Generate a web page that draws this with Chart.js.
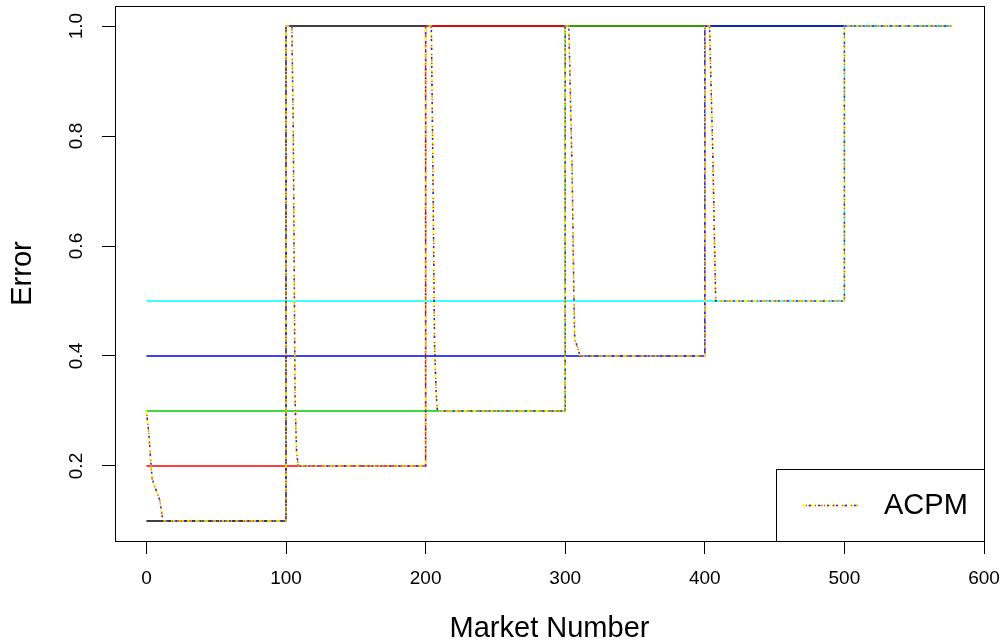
<!DOCTYPE html>
<html>
<head>
<meta charset="utf-8">
<script src="https://cdn.jsdelivr.net/npm/chart.js@4"></script>
<style>
  html, body { margin: 0; padding: 0; background: #fff; }
  #wrap { width: 1003px; height: 644px; }
</style>
</head>
<body>
<div id="wrap"><canvas id="c" width="1003" height="644"></canvas></div>
<script>
// ===== DATA =====
const marketTicks = [0, 100, 200, 300, 400, 500, 600];
const errorTicks = [0.2, 0.4, 0.6, 0.8, 1.0];

const blackMarkets = [0, 100, 100, 577];
const blackError = [0.1, 0.1, 1.0, 1.0];
const redMarkets = [0, 200, 200, 577];
const redError = [0.2, 0.2, 1.0, 1.0];
const greenMarkets = [0, 300, 300, 577];
const greenError = [0.3, 0.3, 1.0, 1.0];
const blueMarkets = [0, 400, 400, 577];
const blueError = [0.4, 0.4, 1.0, 1.0];
const cyanMarkets = [0, 500, 500, 577];
const cyanError = [0.5, 0.5, 1.0, 1.0];

const acpmMarkets = [0, 1.7, 3.4, 4.1, 5.6, 7, 9.5, 10.7, 11.7,
  100, 100, 104.2, 105.2, 106.5, 107.6, 108.8,
  200, 200, 204.1, 205.2, 206.4, 207.6, 208.5,
  300, 300, 302.6, 305, 306.2, 306.8, 309, 310.5,
  400, 400, 403.4, 405.8, 407.4, 407.8,
  500, 500, 577];
const acpmError = [0.3, 0.26, 0.2, 0.178, 0.164, 0.156, 0.138, 0.12, 0.1,
  0.1, 1.0, 1.0, 0.81, 0.32, 0.224, 0.2,
  0.2, 1.0, 1.0, 0.75, 0.42, 0.33, 0.3,
  0.3, 1.0, 1.0, 0.73, 0.51, 0.43, 0.415, 0.4,
  0.4, 1.0, 1.0, 0.76, 0.55, 0.5,
  0.5, 1.0, 1.0];

// ===== CHART =====
const FONT = "'Liberation Sans', Arial, sans-serif";
const zip = (xs, ys) => xs.map((x, i) => ({ x, y: ys[i] }));

const step = (xs, ys, color) => ({
  data: zip(xs, ys),
  borderColor: color,
  borderWidth: 1.3,
  pointRadius: 0,
  showLine: true,
  tension: 0,
});

// ACPM is drawn as several dashed layers in different colours
const acpmLayers = [
  { color: "#FFFF00", dash: [5, 3], offset: 0 },
  { color: "#E0A020", dash: [3, 9], offset: 6 },
  { color: "#2020FF", dash: [2, 7], offset: 2 },
  { color: "#FF2020", dash: [1, 8], offset: 5 },
];
const acpmSets = acpmLayers.map((l) => ({
  label: "ACPM",
  data: zip(acpmMarkets, acpmError),
  borderColor: l.color,
  borderWidth: 1.5,
  borderDash: l.dash,
  borderDashOffset: l.offset,
  pointRadius: 0,
  showLine: true,
  tension: 0,
}));

const framePlugin = {
  id: "frame",
  afterDraw(chart) {
    const { ctx, chartArea: a } = chart;
    ctx.save();
    ctx.strokeStyle = "#000";
    ctx.lineWidth = 1;
    ctx.strokeRect(a.left + 0.5, a.top + 0.5, a.right - a.left, a.bottom - a.top);

    // rotated y tick labels
    const ys = chart.scales.y;
    ctx.fillStyle = "#000";
    ctx.font = "19px " + FONT;
    ctx.textAlign = "center";
    ctx.textBaseline = "middle";
    errorTicks.forEach((v) => {
      const py = ys.getPixelForValue(v);
      ctx.save();
      ctx.translate(77, py);
      ctx.rotate(-Math.PI / 2);
      ctx.fillText(v.toFixed(1), 0, 0);
      ctx.restore();
    });

    // legend box (bottom right)
    const lx = 776, ly = 469;
    ctx.strokeRect(lx + 0.5, ly + 0.5, a.right - lx, a.bottom - ly);
    acpmLayers.forEach((l) => {
      ctx.beginPath();
      ctx.strokeStyle = l.color;
      ctx.lineWidth = 1.5;
      ctx.setLineDash(l.dash);
      ctx.lineDashOffset = l.offset;
      ctx.moveTo(802, 505.5);
      ctx.lineTo(858, 505.5);
      ctx.stroke();
    });
    ctx.setLineDash([]);
    ctx.fillStyle = "#000";
    ctx.font = "29px " + FONT;
    ctx.textAlign = "left";
    ctx.textBaseline = "middle";
    ctx.fillText("ACPM", 884, 506);
    ctx.restore();
  },
};

// Chart.js paints dataset 0 last, so list top-most first
const datasets = [
  step(blackMarkets, blackError, "#000000"),
  step(redMarkets, redError, "#FF0000"),
  step(greenMarkets, greenError, "#00CD00"),
  step(blueMarkets, blueError, "#0000FF"),
  step(cyanMarkets, cyanError, "#00FFFF"),
  ...acpmSets,
].reverse();

new Chart(document.getElementById("c"), {
  type: "scatter",
  data: { datasets },
  options: {
    responsive: false,
    animation: false,
    devicePixelRatio: 1,
    layout: { padding: { top: 6, right: 19, left: 0, bottom: 0 } },
    plugins: { legend: { display: false }, tooltip: { enabled: false } },
    scales: {
      x: {
        type: "linear",
        min: -22.5,
        max: 600,
        afterBuildTicks: (s) => { s.ticks = marketTicks.map((v) => ({ value: v })); },
        afterFit: (s) => { s.height = 103; s.paddingLeft = 0; s.paddingRight = 0; },
        grid: { drawOnChartArea: false, drawTicks: true, tickLength: 13, color: "#000", lineWidth: 1 },
        border: { display: false },
        ticks: { color: "#000", font: { family: FONT, size: 19 }, padding: 13, maxRotation: 0, minRotation: 0 },
        title: { display: true, text: "Market Number", color: "#000", font: { family: FONT, size: 29 }, padding: { top: 0, bottom: -2 } },
      },
      y: {
        type: "linear",
        min: 0.0636,
        max: 1.0364,
        afterBuildTicks: (s) => { s.ticks = errorTicks.map((v) => ({ value: v })); },
        afterFit: (s) => { s.width = 115; s.paddingTop = 0; s.paddingBottom = 0; },
        grid: { drawOnChartArea: false, drawTicks: true, tickLength: 13, color: "#000", lineWidth: 1 },
        border: { display: false },
        ticks: { color: "rgba(0,0,0,0)", font: { family: FONT, size: 19 } },
        title: { display: true, text: "Error", color: "#000", font: { family: FONT, size: 29 }, padding: { top: 6, bottom: 0 } },
      },
    },
  },
  plugins: [framePlugin],
});
</script>
</body>
</html>
